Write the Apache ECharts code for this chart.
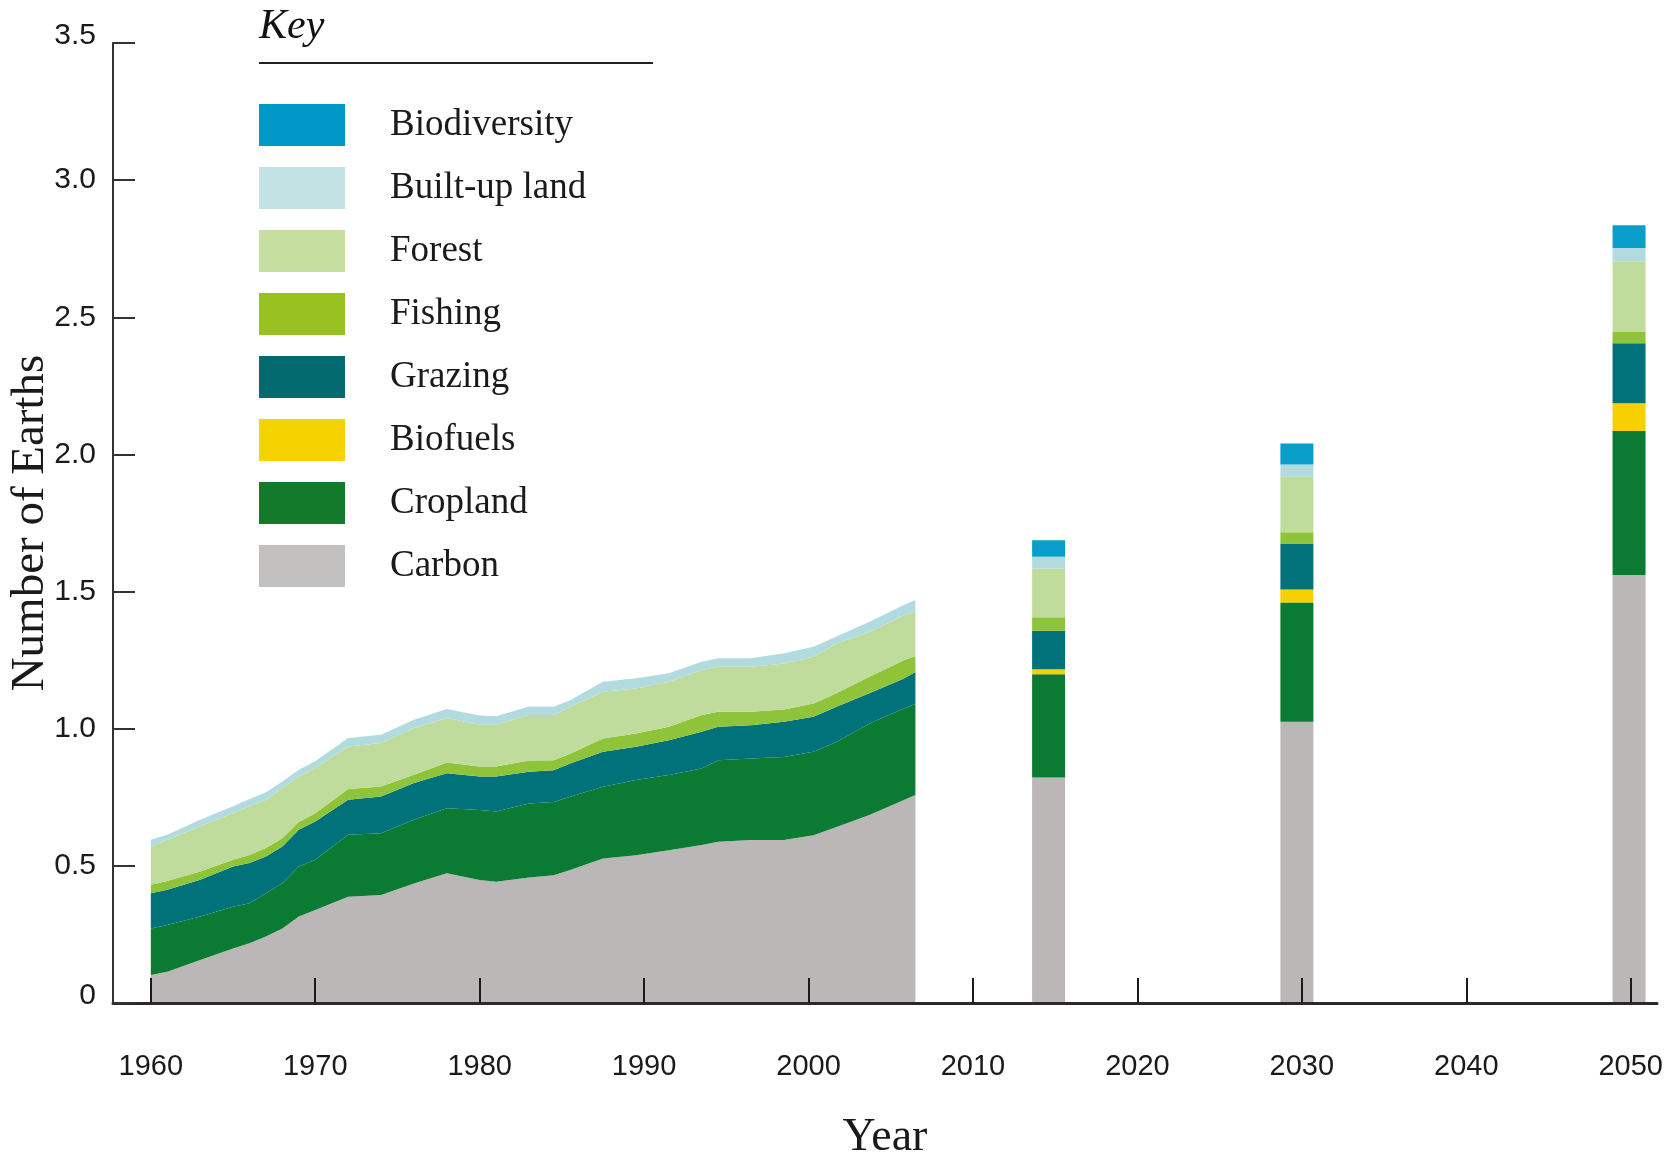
<!DOCTYPE html>
<html>
<head>
<meta charset="utf-8">
<script src="https://cdn.jsdelivr.net/npm/echarts@6/dist/echarts.min.js"></script>
<style>
html,body{margin:0;padding:0;background:#fff;}
#chart{width:1676px;height:1153px;}
</style>
</head>
<body>
<div id="chart"></div>
<script>
// ---- Data ----
const xTickYears = [1960, 1970, 1980, 1990, 2000, 2010, 2020, 2030, 2040, 2050];

// historical stacked area (layer thickness, Number of Earths)
const areaYears = [1960,1961,1963,1965,1966,1967,1968,1969,1970,1972,1974,1976,1978,1980,1981,1983,1984.5,1985.5,1987.5,1989.5,1991.5,1993.5,1994.5,1996.5,1998.5,2000.3,2001.7,2003.7,2005.8,2006.5];
const areaCarbon   = [0.102,0.114,0.157,0.199,0.218,0.242,0.272,0.315,0.339,0.387,0.394,0.436,0.473,0.448,0.442,0.458,0.466,0.485,0.527,0.539,0.557,0.576,0.588,0.594,0.594,0.612,0.642,0.685,0.740,0.758];
const areaCropland = [0.170,0.170,0.158,0.152,0.146,0.158,0.165,0.183,0.183,0.226,0.225,0.232,0.237,0.256,0.256,0.269,0.267,0.267,0.261,0.274,0.274,0.279,0.297,0.297,0.303,0.304,0.310,0.334,0.334,0.332];
const areaGrazing  = [0.128,0.129,0.134,0.147,0.146,0.134,0.134,0.134,0.140,0.128,0.134,0.134,0.128,0.122,0.128,0.116,0.116,0.121,0.128,0.121,0.127,0.134,0.122,0.122,0.128,0.128,0.128,0.110,0.109,0.117];
const areaFishing  = [0.031,0.032,0.030,0.024,0.030,0.031,0.030,0.028,0.030,0.039,0.036,0.030,0.039,0.036,0.036,0.041,0.036,0.036,0.048,0.049,0.049,0.061,0.055,0.049,0.045,0.048,0.049,0.060,0.067,0.058];
const areaForest   = [0.139,0.150,0.165,0.170,0.177,0.176,0.183,0.166,0.165,0.155,0.159,0.170,0.162,0.152,0.152,0.166,0.165,0.171,0.171,0.164,0.164,0.164,0.164,0.164,0.168,0.170,0.182,0.164,0.164,0.161];
const areaBuiltUp  = [0.025,0.018,0.024,0.025,0.027,0.027,0.024,0.024,0.024,0.031,0.030,0.031,0.033,0.034,0.031,0.031,0.030,0.024,0.036,0.037,0.031,0.030,0.031,0.031,0.037,0.037,0.025,0.037,0.037,0.043];

// projection bars (positions: 2015, 2030, 2050)
const barYears = [2014.6, 2029.7, 2049.9];
const barCarbon       = [0.822, 1.025, 1.560];
const barCropland     = [0.377, 0.435, 0.525];
const barBiofuels     = [0.018, 0.048, 0.102];
const barGrazing      = [0.140, 0.167, 0.218];
const barFishing      = [0.049, 0.041, 0.041];
const barForest       = [0.178, 0.203, 0.258];
const barBuiltUp      = [0.043, 0.044, 0.049];
const barBiodiversity = [0.060, 0.077, 0.083];

const legendOrder = ['Biodiversity','Built-up land','Forest','Fishing','Grazing','Biofuels','Cropland','Carbon'];

// ---- Styles ----
const colors = {
  'Biodiversity':  '#0a9fcb',
  'Built-up land': '#b2dbe0',
  'Forest':        '#bfdc9c',
  'Fishing':       '#8fc43a',
  'Grazing':       '#02727a',
  'Biofuels':      '#f6d000',
  'Cropland':      '#0b7a33',
  'Carbon':        '#bab7b6'
};
const legendColors = {
  'Biodiversity':  '#0099c7',
  'Built-up land': '#c2e2e3',
  'Forest':        '#c6dfa0',
  'Fishing':       '#96c11f',
  'Grazing':       '#036b70',
  'Biofuels':      '#f6d200',
  'Cropland':      '#137a2b',
  'Carbon':        '#c2c0bf'
};

// layers from bottom to top
const areaLayers = [
  ['Carbon', areaCarbon],
  ['Cropland', areaCropland],
  ['Grazing', areaGrazing],
  ['Fishing', areaFishing],
  ['Forest', areaForest],
  ['Built-up land', areaBuiltUp]
];
const barLayers = [
  ['Carbon', barCarbon],
  ['Cropland', barCropland],
  ['Biofuels', barBiofuels],
  ['Grazing', barGrazing],
  ['Fishing', barFishing],
  ['Forest', barForest],
  ['Built-up land', barBuiltUp],
  ['Biodiversity', barBiodiversity]
];

// value dimension first so ECharts stacks the Earths value (not the year) on a value x-axis
const series = [];
areaLayers.forEach(([name, vals]) => {
  series.push({
    name: name,
    type: 'line',
    stack: 'history',
    symbol: 'none',
    smooth: false,
    dimensions: ['earths', 'year'],
    encode: { x: 'year', y: 'earths' },
    lineStyle: { width: 0 },
    itemStyle: { color: colors[name] },
    areaStyle: { color: colors[name], opacity: 1 },
    data: areaYears.map((y, i) => [vals[i], y]),
    z: 2
  });
});
barLayers.forEach(([name, vals]) => {
  series.push({
    name: name,
    type: 'bar',
    stack: 'projection',
    barWidth: 33,
    dimensions: ['earths', 'year'],
    encode: { x: 'year', y: 'earths' },
    itemStyle: { color: colors[name] },
    data: barYears.map((y, i) => [vals[i], y]),
    z: 2
  });
});

const chart = echarts.init(document.getElementById('chart'));
chart.setOption({
  animation: false,
  backgroundColor: '#ffffff',
  grid: { left: 113, right: 19, top: 43, bottom: 150, containLabel: false, outerBoundsMode: 'none' },
  legend: {
    orient: 'vertical',
    left: 259,
    top: 104,
    padding: 0,
    icon: 'rect',
    itemWidth: 86,
    itemHeight: 42,
    itemGap: 21,
    selectedMode: false,
    textStyle: {
      fontFamily: 'Liberation Serif',
      fontSize: 37,
      color: '#1a1a1a',
      padding: [0, 0, 0, 40]
    },
    data: legendOrder.map(n => ({ name: n, itemStyle: { color: legendColors[n] } }))
  },
  graphic: [
    {
      type: 'text',
      left: 259,
      top: 6,
      style: { text: 'Key', font: 'italic 42px "Liberation Serif"', fill: '#111' }
    },
    {
      type: 'line',
      shape: { x1: 259, y1: 63, x2: 653, y2: 63 },
      style: { stroke: '#222', lineWidth: 2 }
    }
  ],
  xAxis: {
    type: 'value',
    min: 1957.7,
    max: 2051.6,
    z: 10,
    name: 'Year',
    nameLocation: 'middle',
    nameGap: 112,
    nameMoveOverlap: false,
    nameTextStyle: { fontFamily: 'Liberation Serif', fontSize: 46, color: '#1a1a1a' },
    axisLine: { onZero: false, lineStyle: { color: '#2a2a2a', width: 3 } },
    axisTick: { show: true, inside: true, length: 25, customValues: xTickYears, lineStyle: { color: '#1a1a1a', width: 2 } },
    axisLabel: {
      customValues: xTickYears,
      margin: 49,
      fontFamily: 'Liberation Sans',
      fontSize: 29,
      color: '#1a1a1a',
      formatter: v => String(v)
    },
    splitLine: { show: false }
  },
  yAxis: {
    type: 'value',
    min: 0,
    max: 3.5,
    interval: 0.5,
    z: 10,
    name: 'Number of Earths',
    nameLocation: 'middle',
    nameRotate: 90,
    nameGap: 59,
    nameMoveOverlap: false,
    nameTextStyle: { fontFamily: 'Liberation Serif', fontSize: 47, color: '#1a1a1a' },
    axisLine: { show: true, lineStyle: { color: '#333', width: 2 } },
    axisTick: { show: true, inside: true, length: 22, lineStyle: { color: '#333', width: 2 } },
    axisLabel: {
      margin: 17,
      fontFamily: 'Liberation Sans',
      fontSize: 30,
      color: '#1a1a1a',
      formatter: v => {
        if (v === 0) return '{up|0}';
        if (v === 3.5) return '{up|3.5}';
        return v.toFixed(1);
      },
      rich: {
        up: { fontFamily: 'Liberation Sans', fontSize: 30, color: '#1a1a1a', padding: [0, 0, 14, 0] }
      }
    },
    splitLine: { show: false }
  },
  series: series
});
</script>
</body>
</html>
